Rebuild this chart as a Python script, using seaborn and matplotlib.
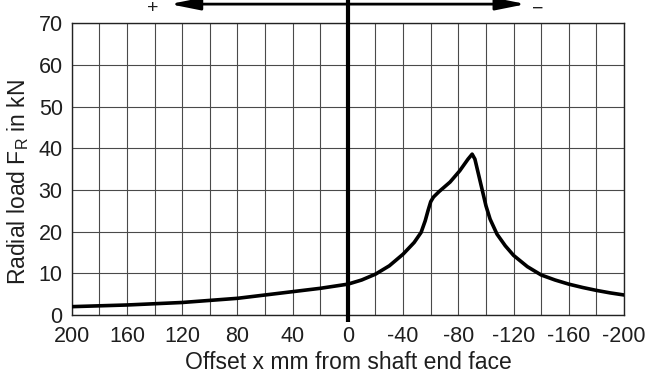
import matplotlib
matplotlib.use("Agg")
import matplotlib.pyplot as plt
import seaborn as sns
import pandas as pd

# Data
offset_mm = [200, 180, 160, 140, 120, 100, 80, 60, 40, 20, 0, -10, -20, -30, -40,
             -48, -53, -56, -58, -60, -62, -66, -74, -81, -87, -90, -92, -96, -100,
             -103, -108, -114, -120, -130, -140, -150, -160, -170, -180, -190, -200]
radial_load_kN = [2.0, 2.2, 2.4, 2.7, 3.0, 3.5, 4.0, 4.8, 5.6, 6.4, 7.4, 8.4, 9.8, 11.8, 14.6,
                  17.4, 19.8, 22.6, 25.0, 27.2, 28.3, 29.6, 31.9, 34.6, 37.4, 38.6, 37.4, 31.8,
                  26.2, 23.0, 19.4, 16.6, 14.3, 11.6, 9.6, 8.4, 7.4, 6.6, 5.9, 5.3, 4.8]
x_ticks = [200, 180, 160, 140, 120, 100, 80, 60, 40, 20, 0, -20, -40, -60, -80,
           -100, -120, -140, -160, -180, -200]
x_tick_labels = ["200", "", "160", "", "120", "", "80", "", "40", "", "0", "", "-40", "",
                 "-80", "", "-120", "", "-160", "", "-200"]
y_ticks = [0, 10, 20, 30, 40, 50, 60, 70]

sns.set_style("white")
plt.rcParams["font.family"] = ["Liberation Sans", "DejaVu Sans"]
plt.rcParams["mathtext.fontset"] = "custom"
plt.rcParams["mathtext.rm"] = "Liberation Sans"

TXT = "#1e1e1e"
df = pd.DataFrame({"x": offset_mm, "y": radial_load_kN})

fig = plt.figure(figsize=(6.45, 3.78), dpi=100)
ax = fig.add_axes([0.1112, 0.1667, 0.8563, 0.7717])

# grid
for xv in x_ticks:
    ax.axvline(xv, color="#4a4a4a", lw=0.8, zorder=1)
for yv in y_ticks:
    ax.axhline(yv, color="#4a4a4a", lw=0.8, zorder=1)

sns.lineplot(data=df, x="x", y="y", ax=ax, color="black", lw=2.6, zorder=4,
             estimator=None, sort=False)

ax.set_xlim(200, -200)
ax.set_ylim(0, 70)
ax.set_xticks(x_ticks)
ax.set_xticklabels(x_tick_labels)
ax.set_yticks(y_ticks)
ax.tick_params(axis="both", direction="out", length=4.5, width=0.8, color="#222222",
               labelsize=15.5, labelcolor=TXT, pad=2)
ax.tick_params(axis="x", pad=3.5)
for s in ax.spines.values():
    s.set_color("#222222")
    s.set_linewidth(1.0)

ax.set_xlabel("Offset x mm from shaft end face", fontsize=16.5, color=TXT, labelpad=3)
ax.set_ylabel("")
fig.text(18 / 645, 1 - 182.5 / 378, r"Radial load F$_\mathrm{R}$ in kN", fontsize=16.5,
         color=TXT, rotation=90, ha="center", va="center")

# thick zero line extending above the axes
ax.plot([0, 0], [-1.8, 76], color="black", lw=3, clip_on=False, zorder=5,
        solid_capstyle="butt")

# direction arrow
ax.annotate("", xy=(-129, 74.6), xytext=(129, 74.6), xycoords="data",
            annotation_clip=False,
            arrowprops=dict(arrowstyle="<|-|>,head_length=1.8,head_width=0.36",
                            mutation_scale=10, lw=2, color="black",
                            shrinkA=0, shrinkB=0))
fig.text(153 / 645, 0.999, "+", fontsize=14, ha="center", va="top", color=TXT)
fig.text(538 / 645, 0.999, "\u2212", fontsize=14, ha="center", va="top", color=TXT)

fig.savefig("out.png", dpi=100)
